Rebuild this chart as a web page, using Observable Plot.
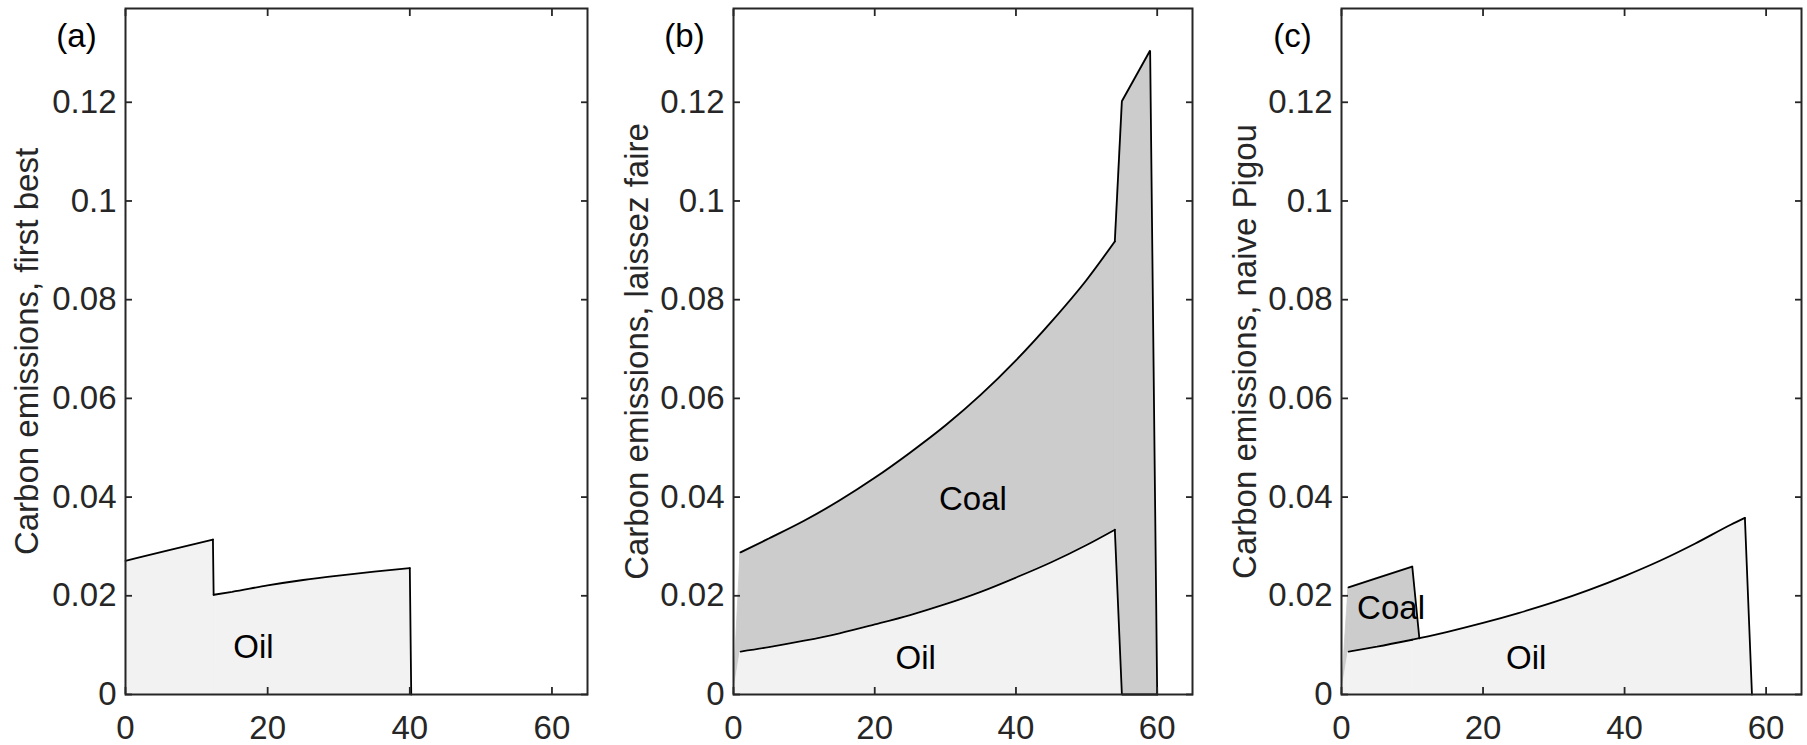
<!DOCTYPE html>
<html><head><meta charset="utf-8">
<script src="https://cdn.jsdelivr.net/npm/d3@7"></script>
<script src="https://cdn.jsdelivr.net/npm/@observablehq/plot@0.6"></script>
<style>
html,body{margin:0;padding:0;background:#fff;}
#wrap{position:relative;width:1807px;height:745px;overflow:hidden;background:#fff;}
#wrap > div{position:absolute;top:0;}
</style></head><body>
<div id="wrap"><div id="pa"></div><div id="pb"></div><div id="pc"></div></div>
<script>
// ---- tick labels & titles ----
const xTicks = [0, 20, 40, 60];
const xTickLabels = ["0", "20", "40", "60"];
const yTicks = [0, 0.02, 0.04, 0.06, 0.08, 0.1, 0.12];
const yTickLabels = ["0", "0.02", "0.04", "0.06", "0.08", "0.1", "0.12"];
const panelLetters = ["(a)", "(b)", "(c)"];
const yTitles = ["Carbon emissions, first best", "Carbon emissions, laissez faire", "Carbon emissions, naive Pigou"];

// ---- panel (a): first best ----
const tA = [0, 6, 12.3, 12.4, 15, 20, 25, 30, 35, 40, 40.2];
const oilA = [0.0271, 0.0292, 0.0314, 0.0202, 0.0208, 0.0221, 0.0232, 0.0241, 0.0249, 0.0256, 0];
const totalA = [];
const smoothA = [[0, 12.3], [12.4, 40]];
const labelTextA = ["Oil"];
const labelXA = [18];
const labelYA = [0.0095];

// ---- panel (b): laissez faire ----
const tB = [0, 1, 5, 10, 15, 20, 25, 30, 35, 40, 45, 50, 54, 55, 59, 60];
const oilB = [0, 0.0087, 0.0096, 0.0109, 0.0124, 0.0142, 0.0161, 0.0183, 0.0208, 0.0237, 0.0268, 0.0303, 0.0334, 0, 0, 0];
const totalB = [0, 0.0288, 0.0316, 0.0352, 0.0393, 0.0439, 0.0490, 0.0545, 0.0607, 0.0677, 0.0755, 0.0840, 0.0918, 0.1202, 0.1305, 0];
const smoothB = [[1, 54]];
const labelTextB = ["Coal", "Oil"];
const labelXB = [33.9, 25.8];
const labelYB = [0.0396, 0.0074];

// ---- panel (c): naive Pigou ----
const tC = [0, 1, 5, 10, 11, 15, 20, 25, 30, 35, 40, 45, 50, 55, 57, 58];
const oilC = [0, 0.0087, 0.0097, 0.0111, 0.0114, 0.0127, 0.0145, 0.0165, 0.0187, 0.0212, 0.0240, 0.0271, 0.0306, 0.0344, 0.0358, 0];
const totalC = [0, 0.0217, 0.0236, 0.0259, 0.0114];
const smoothC = [[1, 10], [11, 57]];
const labelTextC = ["Coal", "Oil"];
const labelXC = [7.0, 26.1];
const labelYC = [0.0175, 0.0074];

const FONT = "'Liberation Sans', Arial, Helvetica, sans-serif";
const AX = "#262626";

// split rows into pieces: smooth ranges drawn with a monotone curve, the rest straight
function pieces(rows, ranges) {
  if (!rows.length) return [];
  const out = [];
  let prev = rows[0].t;
  const last = rows[rows.length - 1].t;
  for (const [a, b0] of ranges) {
    if (a > last) break;
    const b = Math.min(b0, last);
    if (a > prev) out.push({rows: rows.filter(d => d.t >= prev && d.t <= a), curve: "linear"});
    out.push({rows: rows.filter(d => d.t >= Math.max(a, prev) && d.t <= b), curve: "monotone-x"});
    prev = b;
  }
  if (prev < last) out.push({rows: rows.filter(d => d.t >= prev), curve: "linear"});
  return out.filter(p => p.rows.length > 1);
}

function makePanel(cfg) {
  const rows = cfg.t.map((t, i) => ({t, oil: cfg.oil[i], total: i < cfg.total.length ? cfg.total[i] : null}));
  const coalRows = rows.filter(d => d.total !== null);
  const firstOil = rows.findIndex(d => d.oil > 0);
  const oilLine = rows.filter((d, i) => i >= firstOil);
  const firstTot = coalRows.findIndex(d => d.total > 0);
  const totLine = coalRows.filter((d, i) => i >= firstTot);
  const labels = cfg.labelText.map((s, i) => ({s, x: cfg.labelX[i], y: cfg.labelY[i]}));
  const fmtY = d => yTickLabels[yTicks.indexOf(d)];
  const fmtX = d => xTickLabels[xTicks.indexOf(d)];
  const marks = [];
  for (const p of pieces(coalRows, cfg.smooth))
    marks.push(Plot.areaY(p.rows, {x: "t", y1: "oil", y2: "total", curve: p.curve, fill: "#cccccc", stroke: "#cccccc", strokeWidth: 0.8}));
  for (const p of pieces(rows, cfg.smooth))
    marks.push(Plot.areaY(p.rows, {x: "t", y1: () => 0, y2: "oil", curve: p.curve, fill: "#f2f2f2", stroke: "#f2f2f2", strokeWidth: 0.8}));
  for (const p of pieces(oilLine, cfg.smooth))
    marks.push(Plot.line(p.rows, {x: "t", y: "oil", curve: p.curve, stroke: "#000", strokeWidth: 1.8, strokeLinejoin: "miter"}));
  for (const p of pieces(totLine, cfg.smooth))
    marks.push(Plot.line(p.rows, {x: "t", y: "total", curve: p.curve, stroke: "#000", strokeWidth: 1.8, strokeLinejoin: "miter"}));
  marks.push(
    Plot.text(labels, {x: "x", y: "y", text: "s", fill: "#000", fontSize: 33, textAnchor: "middle", lineAnchor: "middle"}),
    Plot.axisX(xTicks, {anchor: "bottom", tickSize: -7, tickPadding: 28, tickFormat: fmtX, stroke: AX, strokeWidth: 1.8, fill: AX, fontSize: 33, label: null}),
    Plot.axisX(xTicks, {anchor: "top", tickSize: -7, stroke: AX, strokeWidth: 1.8, fill: "none", label: null}),
    Plot.axisY(yTicks, {anchor: "left", tickSize: -7, tickPadding: 16, tickFormat: fmtY, stroke: AX, strokeWidth: 1.8, fill: AX, fontSize: 33, label: null}),
    Plot.axisY(yTicks, {anchor: "right", tickSize: -7, stroke: AX, strokeWidth: 1.8, fill: "none", label: null}),
    Plot.frame({stroke: AX, strokeWidth: 2}),
    Plot.text([cfg.letter], {frameAnchor: "top-left", dx: -49, dy: 28, text: d => d, fill: "#000", fontSize: 33, textAnchor: "middle", lineAnchor: "middle"}),
    Plot.text([cfg.title], {frameAnchor: "left", dx: cfg.titleDx, text: d => d, rotate: -90, fill: AX, fontSize: 33, textAnchor: "middle", lineAnchor: "middle"})
  );
  return Plot.plot({
    width: cfg.width, height: 745,
    marginLeft: cfg.ml, marginRight: cfg.mr, marginTop: 8, marginBottom: 51,
    style: {fontFamily: FONT, fontSize: "33px", background: "#fff", color: AX},
    x: {domain: [0, 65], axis: null},
    y: {domain: [0, 0.139], axis: null},
    marks
  });
}

const panels = [
  {el: "pa", left: 0, width: 607, ml: 125, mr: 20, t: tA, oil: oilA, total: totalA, smooth: smoothA, labelText: labelTextA, labelX: labelXA, labelY: labelYA, letter: panelLetters[0], title: yTitles[0], titleDx: -98},
  {el: "pb", left: 607, width: 600, ml: 126, mr: 15, t: tB, oil: oilB, total: totalB, smooth: smoothB, labelText: labelTextB, labelX: labelXB, labelY: labelYB, letter: panelLetters[1], title: yTitles[1], titleDx: -96},
  {el: "pc", left: 1207, width: 600, ml: 134, mr: 6, t: tC, oil: oilC, total: totalC, smooth: smoothC, labelText: labelTextC, labelX: labelXC, labelY: labelYC, letter: panelLetters[2], title: yTitles[2], titleDx: -96}
];
for (const p of panels) {
  const host = document.getElementById(p.el);
  host.style.left = p.left + "px";
  host.appendChild(makePanel(p));
}
</script>
</body></html>
